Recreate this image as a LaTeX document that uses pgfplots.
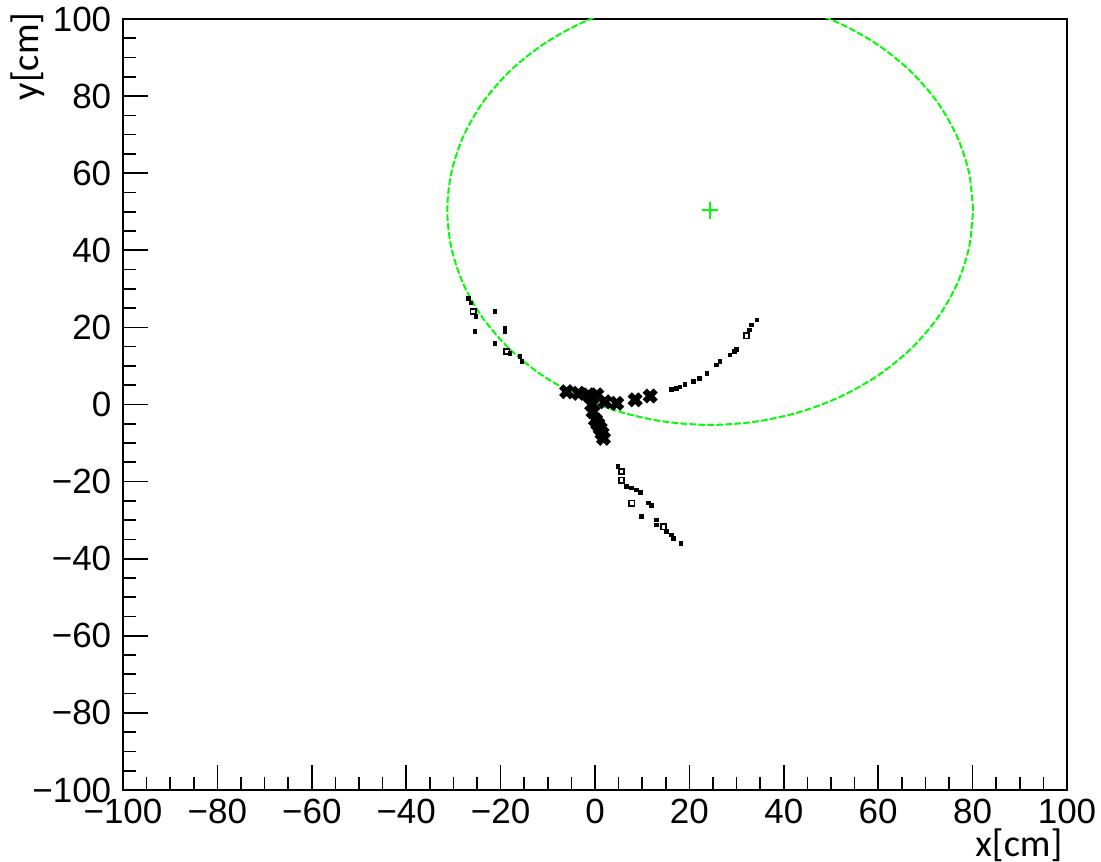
\documentclass[border=0pt]{standalone}
\usepackage{fontspec}
\setmainfont{Liberation Sans}
\newfontfamily\labelfont{Carlito}
\usepackage{pgfplots}
\pgfplotsset{compat=1.18}
\definecolor{rootgreen}{RGB}{0,255,0}

% fitted circle, sampled every 10 degrees (centre 24.4,50.4; r 55.7)
\pgfplotstableread{
x y
80.10 50.40
79.25 60.07
76.74 69.45
72.64 78.25
67.07 86.20
60.20 93.07
52.25 98.64
43.45 102.74
34.07 105.25
24.40 106.10
14.73 105.25
5.35 102.74
-3.45 98.64
-11.40 93.07
-18.27 86.20
-23.84 78.25
-27.94 69.45
-30.45 60.07
-31.30 50.40
-30.45 40.73
-27.94 31.35
-23.84 22.55
-18.27 14.60
-11.40 7.73
-3.45 2.16
5.35 -1.94
14.73 -4.45
24.40 -5.30
34.07 -4.45
43.45 -1.94
52.25 2.16
60.20 7.73
67.07 14.60
72.64 22.55
76.74 31.35
79.25 40.73
80.10 50.40
}\circlepts

\begin{document}
\begin{tikzpicture}
\begin{axis}[
    scale only axis,
    width=283.2pt, height=231.3pt,
    xmin=-100, xmax=100, ymin=-100, ymax=100,
    xtick={-100,-80,...,100},
    ytick={-100,-80,...,100},
    xticklabels={−100,−80,−60,−40,−20,0,20,40,60,80,100},
    yticklabels={−100,−80,−60,−40,−20,0,20,40,60,80,100},
    minor x tick num=3,
    minor y tick num=3,
    tick pos=left,
    tick align=inside,
    major tick length=7.5pt,
    minor tick length=3.8pt,
    tick style={black, line width=0.5pt},
    axis line style={line width=0.6pt},
    ticklabel style={font=\fontsize{10.5}{11}\selectfont},
    xticklabel style={inner sep=0.5pt, yshift=-2pt},
    xlabel={x[cm]},
    ylabel={y[cm]},
    xlabel style={at={(axis description cs:1,0)}, anchor=north east, inner sep=0pt,
        xshift=-1.2pt, yshift=-11.4pt, font=\labelfont\fontsize{11.5}{12}\selectfont},
    ylabel style={at={(axis description cs:-0.0826,1.0091)}, anchor=south east, inner sep=0pt,
        font=\labelfont\fontsize{11.5}{12}\selectfont},
]
% fitted circle and its centre
\addplot[rootgreen, line width=0.6pt, smooth, dash pattern=on 2pt off 0.7pt, no marks] table {\circlepts};
\addplot[rootgreen, only marks, mark=+, mark size=2.5pt, line width=0.6pt] coordinates {(24.4,50.4)};

% hits near the vertex
\addplot[black, only marks, mark=x, mark size=2.3pt, line width=1.8pt] coordinates {
    (-6.0,3.3) (-3.5,2.9) (-1.4,2.5) (0.4,2.5) (2.1,0.7) (4.6,0.3)
    (8.5,1.2) (11.7,2.2) (-0.7,-0.1) (-0.4,-1.9) (0.1,-4.0) (0.6,-5.1)
    (1.1,-6.2) (1.5,-7.5) (1.8,-8.8)
};

% small hits along the tracks
\addplot[black, only marks, mark=square*, mark size=0.5pt] coordinates {
    (-26.8,27.5) (-26.3,26.3) (-21.2,24.1) (-19.1,19.8) (-19.1,18.8)
    (-25.4,18.9) (-21.2,15.9) (-18.0,13.3) (-15.9,12.4) (-15.5,11.1) (-25.2,22.8)
    (16.2,3.8) (17.2,4.2) (18.0,4.5) (19.1,5.1) (20.8,5.9) (22.2,6.8) (23.7,8.1)
    (25.8,10.2) (26.5,11.1) (28.6,12.8) (29.5,13.8) (30.0,14.3) (32.8,19.3)
    (33.2,20.6) (34.3,21.9)
    (4.9,-16.1) (6.7,-21.3) (7.8,-21.7) (8.8,-22.2) (9.7,-22.8) (11.3,-25.6)
    (12.0,-26.2) (9.9,-29.1) (13.1,-30.0) (13.1,-31.3) (15.2,-33.0) (16.2,-33.9)
    (16.7,-34.7) (18.2,-36.0)
};
\addplot[black, only marks, mark=square, mark size=0.8pt, line width=0.5pt] coordinates {
    (-25.8,24.1) (-18.7,13.7) (32.1,17.8) (5.6,-17.4) (5.6,-19.6)
    (7.8,-25.6) (14.5,-31.7)
};
\end{axis}
% page frame matching the reference margins
\pgfresetboundingbox
\path[use as bounding box] ([xshift=-36.9pt,yshift=-21.6pt]current axis.south west)
    rectangle ([xshift=10.2pt,yshift=5.7pt]current axis.north east);
\end{tikzpicture}
\end{document}
